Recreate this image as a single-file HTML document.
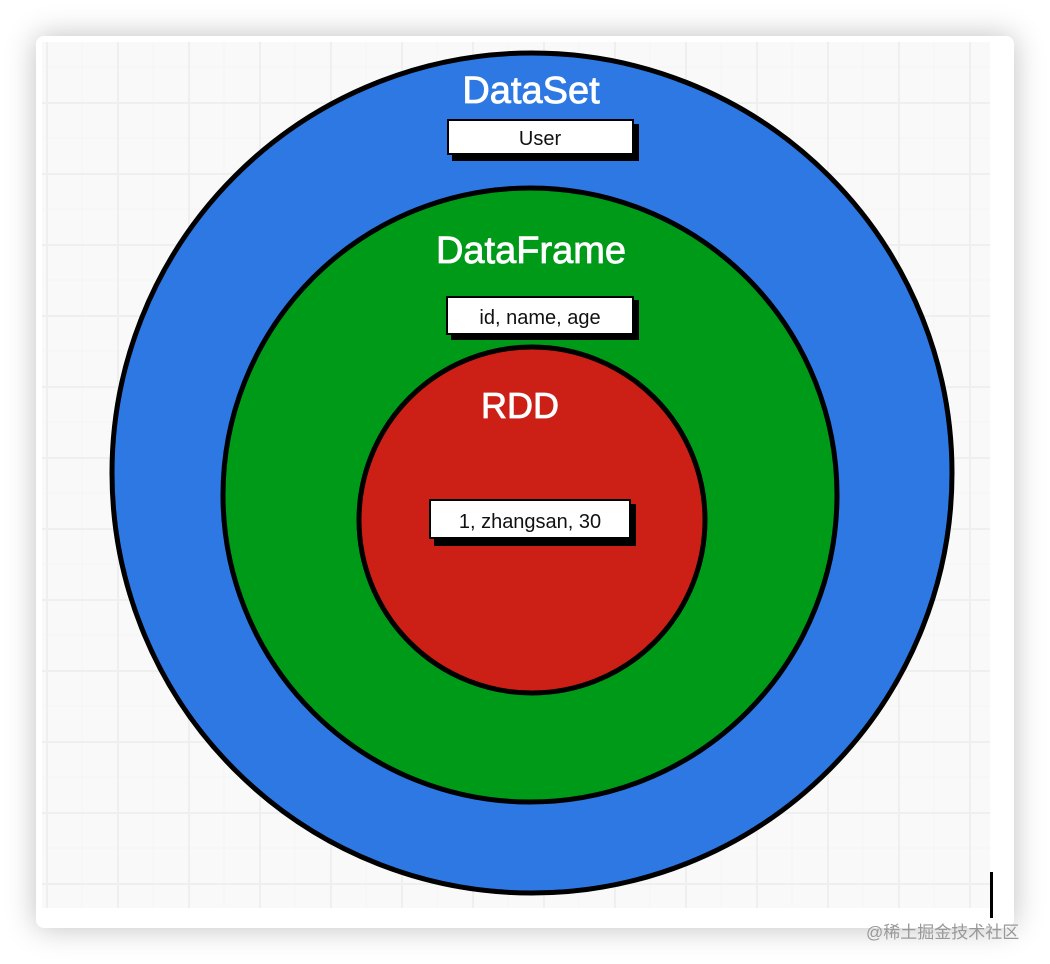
<!DOCTYPE html>
<html><head><meta charset="utf-8"><style>
body{margin:0;width:1050px;height:964px;background:#fff;position:relative;overflow:hidden;font-family:"Liberation Sans",sans-serif}
.card{position:absolute;left:36px;top:36px;width:978px;height:892px;background:#fff;border-radius:8px;box-shadow:0 0 30px rgba(0,0,0,0.25)}
.grid{position:absolute;left:42px;top:42px;width:948px;height:866px;background-color:#f9f9f9;
background-image:linear-gradient(#efefef 2px,transparent 2px),linear-gradient(90deg,#efefef 2px,transparent 2px),linear-gradient(#f5f5f5 1px,transparent 1px),linear-gradient(90deg,#f5f5f5 1px,transparent 1px);
background-size:71px 71px,71px 71px,35.5px 35.5px,35.5px 35.5px;background-position:4px -11px,4px -11px,4px -11px,4px -11px}
svg{position:absolute;left:0;top:0}
.wm{position:absolute;left:866px;top:918px;font-size:17px;color:#999;font-family:"Liberation Sans","Noto Sans CJK SC",sans-serif}
</style></head><body>
<div class="card"></div><div class="grid"></div>
<svg width="1050" height="964">
<rect x="990" y="872" width="3" height="46" fill="#000"/>
<ellipse cx="532" cy="473" rx="420" ry="420" fill="#2e78e4" stroke="#000" stroke-width="5"/>
<circle cx="530" cy="495" r="307" fill="#009a19" stroke="#000" stroke-width="5"/>
<circle cx="532" cy="520" r="173" fill="#cc2016" stroke="#000" stroke-width="5"/>
<g font-family="Liberation Sans, sans-serif" fill="#fff" text-anchor="middle" stroke="#fff" stroke-width="0.8">
<text x="531" y="103" font-size="38">DataSet</text>
<text x="531" y="263" font-size="38">DataFrame</text>
<text x="520" y="418" font-size="36">RDD</text>
</g>
<g stroke="#000" stroke-width="2">
<rect x="453" y="125" width="185" height="35" fill="#000"/>
<rect x="448" y="120" width="185" height="34" fill="#fff"/>
<rect x="452" y="301" width="186" height="38" fill="#000"/>
<rect x="447" y="297" width="186" height="37" fill="#fff"/>
<rect x="435" y="505" width="200" height="40" fill="#000"/>
<rect x="430" y="500" width="200" height="38" fill="#fff"/>
</g>
<g font-family="Liberation Sans, sans-serif" fill="#111" text-anchor="middle" font-size="20">
<text x="540" y="145">User</text>
<text x="540" y="324">id, name, age</text>
<text x="530" y="528">1, zhangsan, 30</text>
</g>
</svg>
<div class="wm">@稀土掘金技术社区</div>
</body></html>
